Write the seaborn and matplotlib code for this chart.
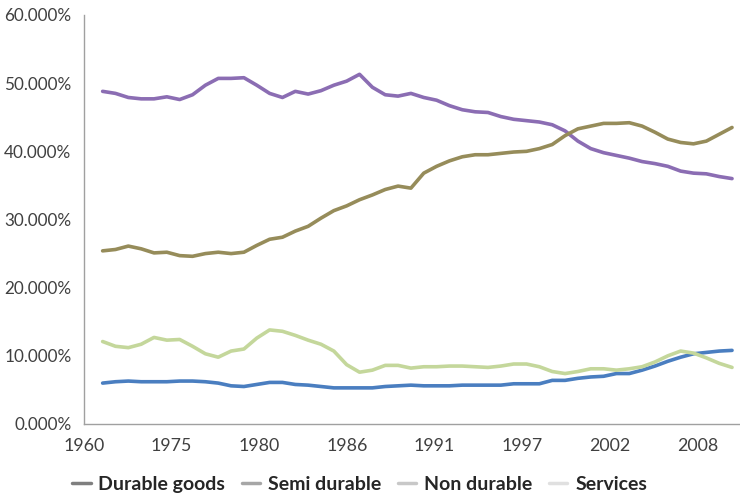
import numpy as np
import pandas as pd
import matplotlib
matplotlib.use("Agg")
import matplotlib.pyplot as plt
from matplotlib.lines import Line2D
import seaborn as sns

# ---- data (share of consumption, %) ----
years = list(range(1961, 2011))
tick_labels = ["1960", "1975", "1980", "1986", "1991", "1997", "2002", "2008"]
series_names = ["Durable goods", "Semi durable", "Non durable", "Services"]

durable = [6.0, 6.2, 6.3, 6.2, 6.2, 6.2, 6.3, 6.3, 6.2, 6.0,
           5.6, 5.5, 5.8, 6.1, 6.1, 5.8, 5.7, 5.5, 5.3, 5.3,
           5.3, 5.3, 5.5, 5.6, 5.7, 5.6, 5.6, 5.6, 5.7, 5.7,
           5.7, 5.7, 5.9, 5.9, 5.9, 6.4, 6.4, 6.7, 6.9, 7.0,
           7.4, 7.4, 7.9, 8.5, 9.2, 9.8, 10.3, 10.5, 10.7, 10.8]
semi = [12.1, 11.4, 11.2, 11.7, 12.7, 12.3, 12.4, 11.4, 10.3, 9.8,
        10.7, 11.0, 12.6, 13.8, 13.6, 13.0, 12.3, 11.7, 10.7, 8.7,
        7.6, 7.9, 8.6, 8.6, 8.2, 8.4, 8.4, 8.5, 8.5, 8.4,
        8.3, 8.5, 8.8, 8.8, 8.4, 7.7, 7.4, 7.7, 8.1, 8.1,
        7.9, 8.1, 8.4, 9.1, 10.0, 10.7, 10.4, 9.7, 8.9, 8.3]
nondurable = [48.8, 48.5, 47.9, 47.7, 47.7, 48.0, 47.6, 48.3, 49.7, 50.7,
              50.7, 50.8, 49.7, 48.5, 47.9, 48.8, 48.4, 48.9, 49.7, 50.3,
              51.3, 49.4, 48.3, 48.1, 48.5, 47.9, 47.5, 46.7, 46.1, 45.8,
              45.7, 45.1, 44.7, 44.5, 44.3, 43.9, 43.0, 41.5, 40.4, 39.8,
              39.4, 39.0, 38.5, 38.2, 37.8, 37.1, 36.8, 36.7, 36.3, 36.0]
services = [25.4, 25.6, 26.1, 25.7, 25.1, 25.2, 24.7, 24.6, 25.0, 25.2,
            25.0, 25.2, 26.2, 27.1, 27.4, 28.3, 29.0, 30.2, 31.3, 32.0,
            32.9, 33.6, 34.4, 34.9, 34.6, 36.8, 37.8, 38.6, 39.2, 39.5,
            39.5, 39.7, 39.9, 40.0, 40.4, 41.0, 42.3, 43.3, 43.7, 44.1,
            44.1, 44.2, 43.7, 42.8, 41.8, 41.3, 41.1, 41.5, 42.5, 43.5]

line_colors = ["#4A7EC0", "#C4D79B", "#8B6DB3", "#968C5A"]
legend_colors = ["#7F7F7F", "#A6A6A6", "#C8C8C8", "#E0E0E0"]

df = pd.DataFrame({
    "idx": np.tile(np.arange(len(years)), 4),
    "value": np.concatenate([durable, semi, nondurable, services]) / 100.0,
    "series": np.repeat(series_names, len(years)),
})

sns.set_theme(style="white")
plt.rcParams["font.family"] = ["Lato", "DejaVu Sans"]

fig = plt.figure(figsize=(7.4, 4.95), dpi=100)
ax = fig.add_axes([84 / 740, 1 - 424 / 495, 1 - 84 / 740, (424 - 15) / 495])

sns.lineplot(data=df, x="idx", y="value", hue="series", hue_order=series_names,
             palette=line_colors, linewidth=2.6, ax=ax, legend=False)

ax.set_xlim(-1.42, 49.62)
ax.set_ylim(0, 0.6)
ax.set_yticks(np.arange(0, 0.61, 0.1))
ax.set_yticklabels([f"{v*100:.3f}%" for v in np.arange(0, 0.61, 0.1)],
                   fontsize=12.3, color="#404040")
ax.set_xticks(np.linspace(-1.45, 46.3, len(tick_labels)))
ax.set_xticklabels(tick_labels, fontsize=12.8, color="#404040")
ax.tick_params(axis="x", length=0, pad=10)
ax.tick_params(axis="y", length=0, pad=9)
ax.set_xlabel("")
ax.set_ylabel("")
for s in ["top", "right"]:
    ax.spines[s].set_visible(False)
for s in ["left", "bottom"]:
    ax.spines[s].set_color("#A0A0A0")
    ax.spines[s].set_linewidth(1.0)

handles = [Line2D([0], [0], color=c, linewidth=2.5) for c in legend_colors]
fig.legend(handles, series_names, loc="center", bbox_to_anchor=(0.486, 0.022),
           ncol=4, frameon=False, handlelength=0.95, handletextpad=0.4,
           columnspacing=0.85, prop={"weight": "bold", "size": 14},
           labelcolor="#262626")

fig.savefig("out.png", dpi=100)
